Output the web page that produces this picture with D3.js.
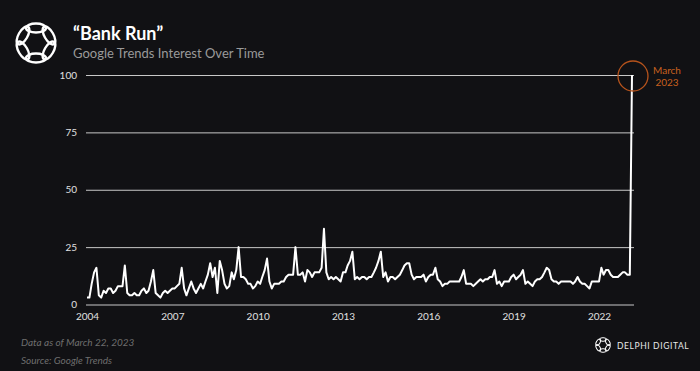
<!DOCTYPE html>
<html><head><meta charset="utf-8">
<script src="https://cdn.jsdelivr.net/npm/d3@7"></script>
<style>
html,body{margin:0;padding:0;background:#111114;}
svg{display:block;font-family:Lato,"Open Sans",sans-serif;}
</style></head>
<body><svg id="c" width="700" height="371"></svg>
<script>
const title = "“Bank Run”";
const subtitle = "Google Trends Interest Over Time";
const startYear = 2004;
const values = [
 3,3,9,14,16,4,3,6,5,7,7,5,
 6,8,8,8,17,5,4,4,5,4,4,6,
 7,5,6,10,15,5,4,3,5,6,5,6,
 7,7,8,9,16,7,4,7,10,7,5,7,
 9,7,10,13,18,12,16,5,19,15,9,7,
 8,14,11,15,25,12,12,11,9,9,7,8,
 10,9,12,15,20,10,7,9,9,9,10,10,
 12,13,13,13,25,13,13,14,10,15,14,12,
 14,14,14,16,33,14,11,12,11,12,11,10,
 14,14,17,19,23,11,12,11,12,12,11,12,
 12,14,16,19,23,12,14,10,12,12,11,12,
 13,15,17,18,18,13,11,12,12,12,13,10,
 12,13,13,16,11,10,8,9,9,10,10,10,
 10,10,12,15,9,9,9,8,9,10,11,10,
 11,11,12,12,15,9,10,8,10,10,10,12,
 13,11,12,13,15,9,10,9,8,10,11,11,
 12,14,16,15,11,10,10,9,10,10,10,10,
 10,9,10,12,10,9,9,8,7,10,10,10,
 10,16,13,15,15,13,12,12,12,13,14,14,
 13,13,100
];
const yTicks = [0,25,50,75,100];
const xTickYears = [2004,2007,2010,2013,2016,2019,2022];
const annotation = ["March","2023"];
const notes = ["Data as of March 22, 2023","Source: Google Trends"];
const brand = "DELPHI DIGITAL";

const data = values.map((v,i)=>({date:new Date(startYear, i, 1), v}));
const svg = d3.select("#c");
const x = d3.scaleTime().domain([data[0].date, data[data.length-1].date]).range([87,632]);
const y = d3.scaleLinear().domain([0,100]).range([304.5,75]);
const gridL = 86, gridR = 634;

// y grid + labels
const gy = svg.append("g").attr("transform",`translate(${gridL},0)`)
  .call(d3.axisLeft(y).tickValues(yTicks).tickSize(-(gridR-gridL)).tickPadding(9));
gy.select(".domain").remove();
gy.selectAll("line").attr("stroke","#c8c8c8").attr("stroke-width",1);
gy.selectAll("text").attr("fill","#e0e0e0").attr("font-size",10).attr("font-family","Lato,sans-serif");

// x labels
const gx = svg.append("g").attr("transform",`translate(0,311)`)
  .call(d3.axisBottom(x).tickValues(xTickYears.map(yr=>new Date(yr,0,1))).tickFormat(d3.timeFormat("%Y")).tickSize(0).tickPadding(2));
gx.select(".domain").remove();
gx.selectAll("text").attr("fill","#e0e0e0").attr("font-size",10).attr("font-family","Lato,sans-serif");

// line
svg.append("path").datum(data)
  .attr("fill","none").attr("stroke","#ffffff").attr("stroke-width",2).attr("stroke-linejoin","round")
  .attr("d", d3.line().x(d=>x(d.date)).y(d=>y(d.v)));

// annotation
const last = data[data.length-1];
svg.append("circle").attr("cx",x(last.date)+1).attr("cy",y(last.v)+1).attr("r",15)
  .attr("fill","none").attr("stroke","#b8541c").attr("stroke-width",1.3);
svg.append("text").attr("x",667).attr("y",74).attr("text-anchor","middle").attr("fill","#c8601e").attr("font-size",10).text(annotation[0]);
svg.append("text").attr("x",667).attr("y",86).attr("text-anchor","middle").attr("fill","#c8601e").attr("font-size",10).text(annotation[1]);

// title
svg.append("text").attr("x",73).attr("y",40).attr("fill","#ffffff").attr("font-size",18).attr("font-weight","bold").text(title);
svg.append("text").attr("x",73).attr("y",58).attr("fill","#9a9a9a").attr("font-size",13).text(subtitle);

// logo
function knot(g, cx, cy, R, rx, ry, sw){
  const n = 6;
  for(let i=0;i<n;i++){
    const a = i*360/n;
    g.append("ellipse").attr("cx",0).attr("cy",-R).attr("rx",rx).attr("ry",ry)
      .attr("transform",`translate(${cx},${cy}) rotate(${a})`)
      .attr("fill","none").attr("stroke","#ffffff").attr("stroke-width",sw);
  }
}
const logo = svg.append("g");
knot(logo, 36, 43, 15, 10, 4.5, 2.4);
const logo2 = svg.append("g");
knot(logo2, 603, 345, 5.5, 3.5, 1.8, 1);

// notes
svg.append("text").attr("x",21).attr("y",346).attr("fill","#6e6e6e").attr("font-size",10).attr("font-style","italic").text(notes[0]);
svg.append("text").attr("x",21).attr("y",364).attr("fill","#6e6e6e").attr("font-size",10).attr("font-style","italic").text(notes[1]);
svg.append("text").attr("x",617).attr("y",349).attr("fill","#e8e8e8").attr("font-size",8.5).attr("letter-spacing",0.6).text(brand);
</script></body></html>
